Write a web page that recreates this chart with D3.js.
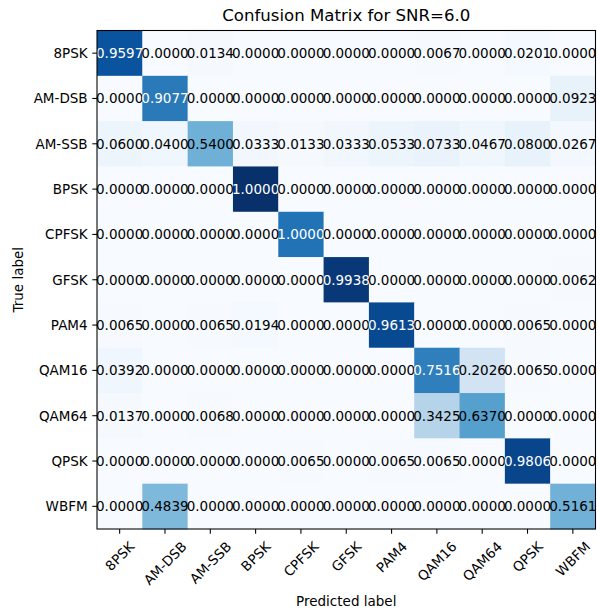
<!DOCTYPE html>
<html>
<head>
<meta charset="utf-8">
<script src="https://cdn.jsdelivr.net/npm/d3@7"></script>
<style>
  html, body { margin: 0; padding: 0; background: #ffffff; }
  svg { display: block; font-family: "DejaVu Sans", sans-serif; }
</style>
</head>
<body>
<svg id="chart" width="597" height="614"></svg>
<script>
// Class names (true labels on rows, predicted labels on columns)
const classes = ["8PSK", "AM-DSB", "AM-SSB", "BPSK", "CPFSK", "GFSK", "PAM4", "QAM16", "QAM64", "QPSK", "WBFM"];

// Raw prediction counts, one row per true class
const row8PSK  = [143, 0, 2, 0, 0, 0, 0, 1, 0, 3, 0];
const rowAMDSB = [0, 118, 0, 0, 0, 0, 0, 0, 0, 0, 12];
const rowAMSSB = [9, 6, 81, 5, 2, 5, 8, 11, 7, 12, 4];
const rowBPSK  = [0, 0, 0, 165, 0, 0, 0, 0, 0, 0, 0];
const rowCPFSK = [0, 0, 0, 0, 123, 0, 0, 0, 0, 0, 0];
const rowGFSK  = [0, 0, 0, 0, 0, 160, 0, 0, 0, 0, 1];
const rowPAM4  = [1, 0, 1, 3, 0, 0, 149, 0, 0, 1, 0];
const rowQAM16 = [6, 0, 0, 0, 0, 0, 0, 115, 31, 1, 0];
const rowQAM64 = [2, 0, 1, 0, 0, 0, 0, 50, 93, 0, 0];
const rowQPSK  = [0, 0, 0, 0, 1, 0, 1, 1, 0, 152, 0];
const rowWBFM  = [0, 75, 0, 0, 0, 0, 0, 0, 0, 0, 80];

const counts = [row8PSK, rowAMDSB, rowAMSSB, rowBPSK, rowCPFSK, rowGFSK,
                rowPAM4, rowQAM16, rowQAM64, rowQPSK, rowWBFM];

const titleText = "Confusion Matrix for SNR=6.0";

// Row-normalised rates shown as cell text
const rates = counts.map(r => { const s = d3.sum(r); return r.map(v => v / s); });

const cells = [];
counts.forEach((r, i) => r.forEach((v, j) => cells.push({
  t: classes[i], p: classes[j], count: v, rate: rates[i][j]
})));

// Layout
const plotLeft = 97, plotTop = 30.5, plotSize = 498.5;
const fs = 13.5;          // 10pt text
const tickLen = 4.7, tickPad = 4.7;

const svg = d3.select("#chart");

const x = d3.scaleBand().domain(classes).range([plotLeft, plotLeft + plotSize]).padding(0);
const y = d3.scaleBand().domain(classes).range([plotTop, plotTop + plotSize]).padding(0);

// Blues colour map, linear through the nine ColorBrewer stops
const blues = ['#f7fbff','#deebf7','#c6dbef','#9ecae1','#6baed6','#4292c6','#2171b5','#08519c','#08306b'];
const cmap = d3.scaleLinear().domain(d3.range(9).map(i => i / 8)).range(blues)
  .interpolate(d3.interpolateRgb).clamp(true);
const maxCount = d3.max(cells, d => d.count);
const color = d => cmap(d.count / maxCount);

// Heatmap cells
svg.append("g").selectAll("rect").data(cells).join("rect")
  .attr("x", d => x(d.p))
  .attr("y", d => y(d.t))
  .attr("width", x.bandwidth() + 0.5)
  .attr("height", y.bandwidth() + 0.5)
  .attr("fill", color);

// Cell value text
const thresh = d3.max(cells, d => d.rate) / 1.5;
svg.append("g").selectAll("text").data(cells).join("text")
  .attr("x", d => x(d.p) + x.bandwidth() / 2)
  .attr("y", d => y(d.t) + y.bandwidth() / 2)
  .attr("text-anchor", "middle")
  .attr("dominant-baseline", "central")
  .attr("font-size", fs)
  .attr("fill", d => d.rate > thresh ? "#ffffff" : "#000000")
  .text(d => d.rate.toFixed(4));

// Frame
svg.append("rect")
  .attr("x", plotLeft).attr("y", plotTop).attr("width", plotSize).attr("height", plotSize)
  .attr("fill", "none").attr("stroke", "#000").attr("stroke-width", 1.07);

// Y axis
const yAxis = d3.axisLeft(y).tickSize(tickLen).tickPadding(tickPad);
const gy = svg.append("g").attr("transform", `translate(${plotLeft},0)`).call(yAxis);
gy.select(".domain").remove();
gy.selectAll(".tick line").attr("stroke", "#000").attr("stroke-width", 1.07);
gy.selectAll(".tick text")
  .attr("font-size", fs).attr("fill", "#000")
  .attr("font-family", "DejaVu Sans, sans-serif")
  .attr("dy", null).attr("dominant-baseline", "central");

// X axis with 45° labels, each centred under its tick
const xAxis = d3.axisBottom(x).tickSize(tickLen).tickPadding(tickPad);
const gx = svg.append("g").attr("transform", `translate(0,${plotTop + plotSize})`).call(xAxis);
gx.select(".domain").remove();
gx.selectAll(".tick line").attr("stroke", "#000").attr("stroke-width", 1.07);
gx.selectAll(".tick text")
  .attr("font-size", fs).attr("fill", "#000")
  .attr("font-family", "DejaVu Sans, sans-serif")
  .attr("text-anchor", "middle")
  .attr("dominant-baseline", "central")
  .attr("dy", null)
  .each(function () {
    const w = this.getComputedTextLength();
    const h = (w + 1.17 * fs) * Math.SQRT1_2;
    const cy = tickLen + tickPad + h / 2;
    d3.select(this).attr("x", 0).attr("y", 0)
      .attr("transform", `translate(0,${cy}) rotate(-45)`);
  });

// Title and axis labels
svg.append("text")
  .attr("x", plotLeft + plotSize / 2).attr("y", 21)
  .attr("text-anchor", "middle")
  .attr("font-size", 16.6).attr("fill", "#000")
  .text(titleText);

svg.append("text")
  .attr("x", plotLeft + plotSize / 2).attr("y", 606)
  .attr("text-anchor", "middle")
  .attr("font-size", fs).attr("fill", "#000")
  .text("Predicted label");

svg.append("text")
  .attr("transform", `translate(18,${plotTop + plotSize / 2}) rotate(-90)`)
  .attr("text-anchor", "middle")
  .attr("dominant-baseline", "central")
  .attr("font-size", fs).attr("fill", "#000")
  .text("True label");
</script>
</body>
</html>
